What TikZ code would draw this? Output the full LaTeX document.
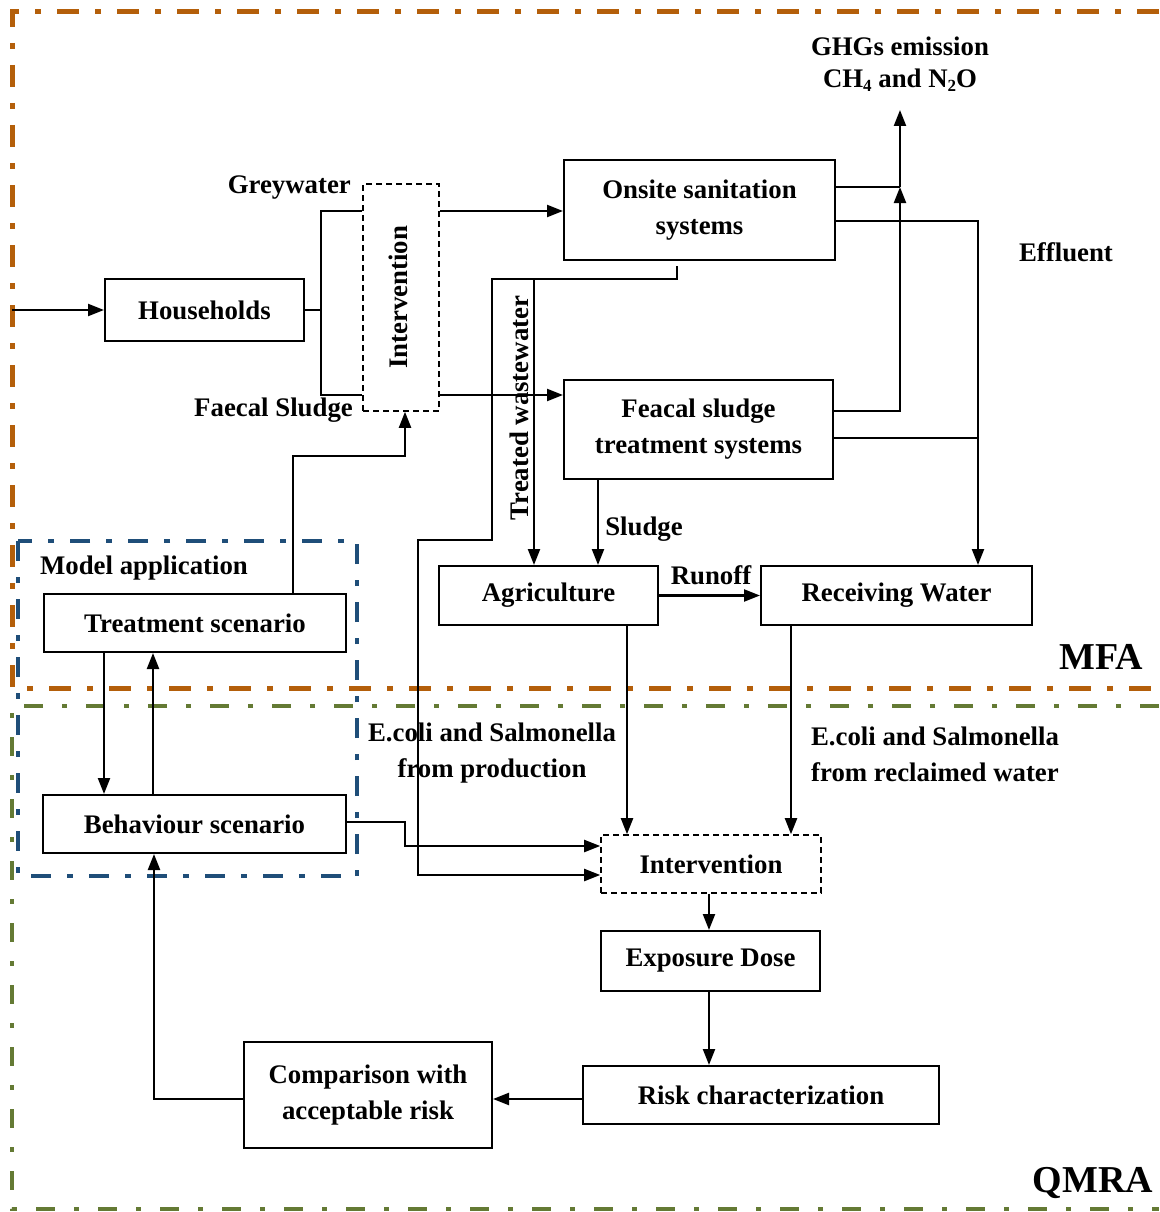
\documentclass[tikz,border=0pt]{standalone}
\usepackage{fontspec}
\setmainfont{Liberation Serif}
\usetikzlibrary{arrows.meta}
\definecolor{mfacol}{RGB}{180,95,10}
\definecolor{qmracol}{RGB}{100,122,52}
\definecolor{modelcol}{RGB}{31,78,121}
\newcommand\lbl{\fontsize{26.8}{36}\selectfont\bfseries}
\newcommand\biglbl{\fontsize{38}{40}\selectfont\bfseries}
\newcommand\subs[1]{{\fontsize{17}{17}\selectfont\raisebox{-4pt}{#1}}}
\begin{document}
\begin{tikzpicture}[x=1pt,y=-1pt,
  box/.style={draw, line width=2pt, inner sep=0pt, align=center, font=\lbl},
  dbox/.style={draw, line width=1.6pt, dash pattern=on 6pt off 4pt, inner sep=0pt, align=center, font=\lbl},
  lab/.style={inner sep=0pt, align=center, font=\lbl},
  ln/.style={line width=2.2pt},
  arr/.style={line width=2.2pt, -{Triangle[length=16pt,width=12pt]}},
  mfaline/.style={draw=mfacol, line width=5pt, dash pattern=on 22pt off 16pt on 6pt off 16pt},
  qline/.style={draw=qmracol, line width=4.5pt, dash pattern=on 19pt off 19pt on 5pt off 19pt},
  bline/.style={draw=modelcol, line width=4.5pt, dash pattern=on 20pt off 16pt on 6pt off 16pt}]
\useasboundingbox (0,0) rectangle (1159,1212);
% frames
\draw[mfaline] (1159,12) -- (12,12) -- (12,688) -- (1159,688);
\draw[qline] (1159,706) -- (12,706) -- (12,1209) -- (1159,1209);
\draw[bline] (18,541) rectangle (357,876);
% nodes
\node[box, minimum width=199pt, minimum height=62pt] (hh) at (204.5,310) {Households};
\node[dbox, minimum width=76pt, minimum height=227pt] (iv1) at (401,297.5) {};
\node[lab, rotate=90] (iv1t) at (398,297.5) {Intervention};
\node[box, minimum width=271pt, minimum height=100pt] (os) at (699.5,210) {Onsite sanitation\\systems};
\node[box, minimum width=269pt, minimum height=99pt] (fs) at (698.5,429.5) {Feacal sludge\\treatment systems};
\node[box, minimum width=219pt, minimum height=59pt] (ag) at (548.5,595.5) {Agriculture};
\node[box, minimum width=271pt, minimum height=59pt] (rw) at (896.5,595.5) {Receiving Water};
\node[box, minimum width=302pt, minimum height=58pt] (ts) at (195,623) {Treatment scenario};
\node[box, minimum width=303pt, minimum height=58pt] (bs) at (194.5,824) {Behaviour scenario};
\node[dbox, minimum width=220pt, minimum height=58pt] (iv2) at (711,864) {Intervention};
\node[box, minimum width=219pt, minimum height=60pt] (ed) at (710.5,961) {Exposure Dose};
\node[box, minimum width=356pt, minimum height=58pt] (rc) at (761,1095) {Risk characterization};
\node[box, minimum width=248pt, minimum height=106pt] (cmp) at (368,1095) {Comparison with\\acceptable risk};
% labels
\node[lab] (ghg) at (900,64) {GHGs emission\\[-4pt]CH\subs{4} and N\subs{2}O};
\node[lab, anchor=east] (grey) at (351,188) {Greywater};
\node[lab, anchor=east] (faec) at (353,410) {Faecal Sludge};
\node[lab] (eff) at (1066,252) {Effluent};
\node[lab, rotate=90] (tww) at (519,408) {Treated wastewater};
\node[lab] (sl) at (644,529) {Sludge};
\node[lab] (ro) at (711,575) {Runoff};
\node[lab] (ma) at (144,568) {Model application};
\node[lab] (ec1) at (492,753) {E.coli and Salmonella\\from production};
\node[lab] (ec2) at (935,754) {E.coli and Salmonella\\from reclaimed water};
\node[inner sep=0pt, font=\biglbl] (mfa) at (1101,657) {MFA};
\node[inner sep=0pt, font=\biglbl] (qmra) at (1093,1183) {QMRA};
% coordinates
\coordinate (in) at (12,310);
\coordinate (jg) at (321,211);
\coordinate (jf) at (321,395);
\coordinate (gj) at (900,187);
\coordinate (gf) at (900,411);
\coordinate (gt) at (900,110);
\coordinate (ej) at (978,221);
\coordinate (ef) at (978,438);
\coordinate (t0) at (677,266);
\coordinate (t1) at (677,279);
\coordinate (t2) at (492,279);
\coordinate (t3) at (492,540);
\coordinate (t4) at (418,540);
\coordinate (t5) at (418,875);
\coordinate (tb) at (534,279);
\coordinate (sx) at (598,500);
\coordinate (ax) at (627,700);
\coordinate (rx) at (791,700);
\coordinate (b1) at (405,822);
\coordinate (b2) at (405,846);
\coordinate (c1) at (293,456);
\coordinate (c2) at (405,456);
\coordinate (d1) at (104,700);
\coordinate (d2) at (153,700);
\coordinate (ex) at (709,900);
\coordinate (ry) at (500,1099);
\coordinate (f1) at (154,1099);
% connectors
\draw[arr] (in) -- (hh.west);
\draw[ln] (hh.east) -- (hh.east -| jg);
\draw[ln] (iv1.west |- jg) -- (jg) -- (jf) -- (iv1.west |- jf);
\draw[arr] (iv1.east |- jg) -- (os.west |- jg);
\draw[arr] (iv1.east |- jf) -- (fs.west |- jf);
\draw[ln] (os.east |- gj) -- (gj);
\draw[arr] (fs.east |- gf) -- (gf) -- (gj);
\draw[arr] (gj) -- (gt);
\draw[arr] (os.east |- ej) -- (ej) -- (rw.north -| ej);
\draw[ln] (fs.east |- ef) -- (ef);
\draw[arr] (t0) -- (t1) -- (t2) -- (t3) -- (t4) -- (t5) -- (iv2.west |- t5);
\draw[arr] (tb) -- (ag.north -| tb);
\draw[arr] (fs.south -| sx) -- (ag.north -| sx);
\draw[arr] (ag.east) -- (rw.west);
\draw[arr] (ag.south -| ax) -- (iv2.north -| ax);
\draw[arr] (rw.south -| rx) -- (iv2.north -| rx);
\draw[arr] (bs.east |- b1) -- (b1) -- (b2) -- (iv2.west |- b2);
\draw[arr] (ts.north -| c1) -- (c1) -- (c2) -- (iv1.south -| c2);
\draw[arr] (ts.south -| d1) -- (bs.north -| d1);
\draw[arr] (bs.north -| d2) -- (ts.south -| d2);
\draw[arr] (iv2.south -| ex) -- (ed.north -| ex);
\draw[arr] (ed.south -| ex) -- (rc.north -| ex);
\draw[arr] (rc.west |- ry) -- (cmp.east |- ry);
\draw[arr] (cmp.west |- f1) -- (f1) -- (bs.south -| f1);
\end{tikzpicture}
\end{document}
